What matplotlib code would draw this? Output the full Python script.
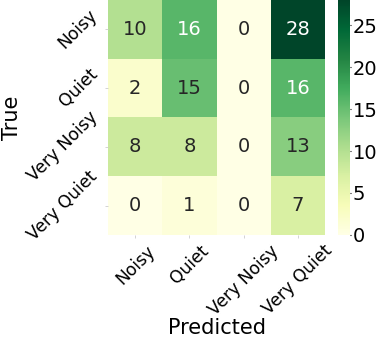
import matplotlib
matplotlib.use("Agg")
import matplotlib.pyplot as plt
import seaborn as sns
import numpy as np

categories = ["Noisy", "Quiet", "Very Noisy", "Very Quiet"]
row_noisy = [10, 16, 0, 28]
row_quiet = [2, 15, 0, 16]
row_very_noisy = [8, 8, 0, 13]
row_very_quiet = [0, 1, 0, 7]
cbar_ticks = [0, 5, 10, 15, 20, 25]

matrix = np.array([row_noisy, row_quiet, row_very_noisy, row_very_quiet])

fig = plt.figure(figsize=(3.82, 3.44), dpi=100)
ax = fig.add_axes([0.283, 0.317, 0.568, 0.683])
cax = fig.add_axes([0.885, 0.317, 0.031, 0.683])

sns.heatmap(matrix, annot=True, fmt="d", cmap="YlGn", ax=ax, cbar_ax=cax,
            xticklabels=categories, yticklabels=categories,
            annot_kws={"fontsize": 14})

ax.set_xticklabels(categories, rotation=45, fontsize=12.3, ha="center")
ax.set_yticklabels(categories, rotation=45, fontsize=12.3, va="center")
ax.tick_params(length=2.5, width=0.6, color="#cccccc", pad=2.5)
ax.set_xlabel("Predicted", fontsize=15)
ax.set_ylabel("True", fontsize=15)
ax.yaxis.set_label_coords(-0.395, 0.5)
ax.xaxis.set_label_coords(0.5, -0.355)
cax.set_yticks(cbar_ticks)
cax.tick_params(labelsize=14, length=1, pad=1)
for s in cax.spines.values():
    s.set_visible(False)

fig.savefig("out.png", dpi=100)
